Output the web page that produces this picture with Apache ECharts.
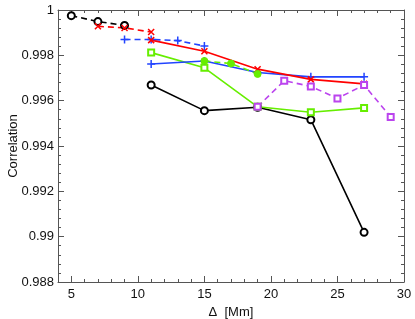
<!DOCTYPE html>
<html><head><meta charset="utf-8">
<script src="https://cdn.jsdelivr.net/npm/echarts@6/dist/echarts.min.js"></script>
<style>html,body{margin:0;padding:0;background:#fff}#c{width:415px;height:319px}</style>
</head><body><div id="c"></div>
<script>
// ---- data ----
const blackDashX = [5, 7, 9];
const blackDashY = [0.99975, 0.99949, 0.99932];
const redDashX = [7, 9, 11];
const redDashY = [0.99928, 0.99921, 0.99903];
const blueDashX = [9, 11, 13, 15];
const blueDashY = [0.99870, 0.99870, 0.99865, 0.99841];
const solidX = [11, 15, 19, 23, 27];
const redSolidY = [0.99867, 0.99818, 0.99739, 0.99694, 0.99674];
const blueSolidY = [0.99762, 0.99775, 0.99724, 0.99705, 0.99705];
const greenSolidY = [0.99812, 0.99745, 0.99573, 0.99549, 0.99568];
const blackSolidY = [0.99669, 0.99556, 0.99571, 0.99516, 0.99019];
const greenDashX = [15, 17, 19];
const greenDashY = [0.99775, 0.99764, 0.99718];
const purpleDashX = [19, 21, 23, 25, 27, 29];
const purpleDashY = [0.99573, 0.99688, 0.99663, 0.99610, 0.99669, 0.99528];
const xTicks = [5, 10, 15, 20, 25, 30];
const yTicks = [0.988, 0.99, 0.992, 0.994, 0.996, 0.998, 1];

const xMinor = [];
for (let v = 5; v < 30; v++) if (v % 5 !== 0) xMinor.push(v);
const yMinor = [];
for (let i = 0; i <= 30; i++) { if (i % 5 !== 0) yMinor.push(+(0.988 + i * 0.0004).toFixed(4)); }

const FONT = 'Liberation Sans';
const AX = '#555';

function xAx(pos, ticks, len, labels, line, name) {
  const a = {
    type: 'value', min: 4, max: 30, position: pos,
    axisLine: { show: line, onZero: false, lineStyle: { color: AX, width: 1 } },
    axisTick: { show: true, inside: true, length: len, customValues: ticks, lineStyle: { color: AX } },
    axisLabel: labels ? { show: true, customValues: ticks, color: '#111', fontFamily: FONT, fontSize: 13, margin: 6 } : { show: false },
    splitLine: { show: false }
  };
  if (name) {
    a.name = name; a.nameLocation = 'middle'; a.nameGap = 21;
    a.nameTextStyle = { color: '#111', fontFamily: FONT, fontSize: 13 };
  }
  return a;
}
function yAx(pos, ticks, len, labels, line, name) {
  const a = {
    type: 'value', min: 0.988, max: 1, position: pos,
    axisLine: { show: line, onZero: false, lineStyle: { color: AX, width: 1 } },
    axisTick: { show: true, inside: true, length: len, customValues: ticks, lineStyle: { color: AX } },
    axisLabel: labels ? { show: true, customValues: ticks, color: '#111', fontFamily: FONT, fontSize: 13, margin: 4,
      formatter: v => String(+(+v).toFixed(3)) } : { show: false },
    splitLine: { show: false }
  };
  if (name) {
    a.name = name; a.nameLocation = 'middle'; a.nameGap = 38; a.nameMoveOverlap = false;
    a.nameTextStyle = { color: '#111', fontFamily: FONT, fontSize: 13 };
  }
  return a;
}

const crossPath = 'path://M0,0L10,10M10,0L0,10';
const plusPath = 'path://M5,0L5,10M0,5L10,5';

function ser(x, y, color, dashed, symbol, size, filled) {
  const isPath = symbol.indexOf('path://') === 0;
  return {
    type: 'line', data: x.map((v, i) => [v, y[i]]),
    symbol: symbol, symbolSize: size, showSymbol: true,
    lineStyle: { color: color, width: 1.6, type: dashed ? [6, 4] : 'solid' },
    itemStyle: isPath ? { color: 'none', borderColor: color, borderWidth: 1.5 }
      : filled ? { color: color, borderColor: color, borderWidth: 1 }
      : { color: color, borderColor: color, borderWidth: 1.5 },
    emphasis: { disabled: true }, animation: false, z: 3
  };
}

const chart = echarts.init(document.getElementById('c'), null, { renderer: 'canvas' });
chart.setOption({
  backgroundColor: '#fff',
  animation: false,
  grid: { left: 58, right: 11, top: 10, bottom: 37, containLabel: false, outerBoundsMode: 'none' },
  xAxis: [
    xAx('bottom', xTicks, 6, true, true, 'Δ  [Mm]'),
    xAx('bottom', xMinor, 3, false, false),
    xAx('top', xTicks, 6, false, true),
    xAx('top', xMinor, 3, false, false)
  ],
  yAxis: [
    yAx('left', yTicks, 6, true, true, 'Correlation'),
    yAx('left', yMinor, 3, false, false),
    yAx('right', yTicks, 6, false, true),
    yAx('right', yMinor, 3, false, false)
  ],
  series: [
    ser(solidX, blackSolidY, '#000000', false, 'emptyCircle', 7),
    ser(blackDashX, blackDashY, '#000000', true, 'emptyCircle', 7),
    ser(solidX, greenSolidY, '#66ee00', false, 'emptyRect', 6),
    ser(solidX, blueSolidY, '#2244ff', false, plusPath, 8),
    ser(blueDashX, blueDashY, '#2244ff', true, plusPath, 8),
    ser(solidX, redSolidY, '#ff0000', false, crossPath, 6),
    ser(redDashX, redDashY, '#ff0000', true, crossPath, 6),
    ser(greenDashX, greenDashY, '#66ee00', true, 'circle', 7, true),
    ser(purpleDashX, purpleDashY, '#bb44ee', true, 'emptyRect', 6)
  ]
});
</script></body></html>
